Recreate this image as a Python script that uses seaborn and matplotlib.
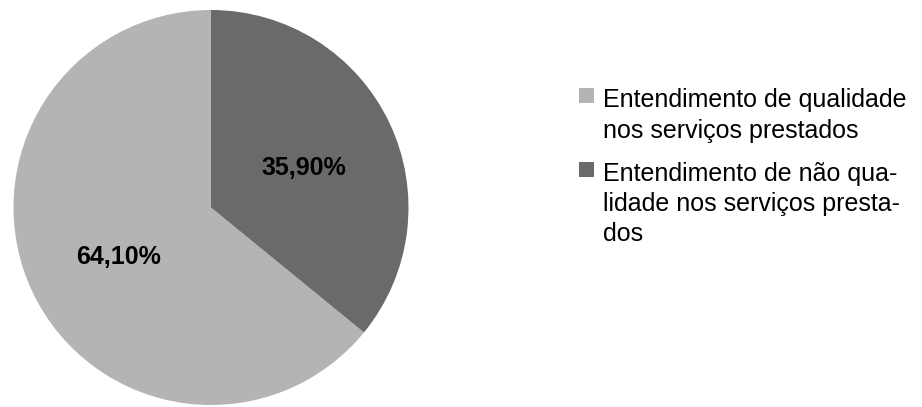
import matplotlib
matplotlib.use("Agg")
import matplotlib.pyplot as plt
from matplotlib.patches import Rectangle
from matplotlib.transforms import offset_copy
import seaborn as sns

# Survey result: perception of service quality
categories = [
    "Entendimento de qualidade nos serviços prestados",
    "Entendimento de não qualidade nos serviços prestados",
]
shares = [64.10, 35.90]
legend_lines = [
    ["Entendimento de qualidade", "nos serviços prestados"],
    ["Entendimento de não qua-", "lidade nos serviços presta-", "dos"],
]
colors = ["#b4b4b4", "#6a6a6a"]

sns.set_style("white")
plt.rcParams["font.family"] = ["Liberation Sans", "DejaVu Sans"]

W, H = 922, 407
fig = plt.figure(figsize=(W / 100, H / 100), dpi=100)

cx, cy, r = 211, 207.5, 197.5
ax = fig.add_axes([(cx - r) / W, (H - cy - r) / H, 2 * r / W, 2 * r / H])

wedges, texts, autotexts = ax.pie(
    shares,
    colors=colors,
    startangle=90,
    counterclock=True,
    radius=1.0,
    pctdistance=0.52,
    autopct=lambda p: f"{p:.2f}%".replace(".", ","),
    wedgeprops=dict(linewidth=0),
    textprops=dict(fontsize=18, fontweight="bold", color="black"),
)
# nudge the percentage labels slightly downward
for t in autotexts:
    t.set_transform(offset_copy(ax.transData, fig=fig, x=0, y=-5, units="dots"))
ax.set_xlim(-1, 1)
ax.set_ylim(-1, 1)
ax.set_aspect("equal")
ax.axis("off")

# Legend drawn as square swatches with wrapped labels
marker_x, marker_size = 579, 15
text_x = 603
item_baselines = [[107, 138], [181, 211, 241]]
for color, lines, baselines in zip(colors, legend_lines, item_baselines):
    top = baselines[0] - 19
    fig.patches.append(
        Rectangle(
            (marker_x / W, 1 - (top + marker_size) / H),
            marker_size / W,
            marker_size / H,
            transform=fig.transFigure,
            facecolor=color,
            edgecolor="none",
        )
    )
    for line, yb in zip(lines, baselines):
        fig.text(text_x / W, 1 - yb / H, line, fontsize=18,
                 va="baseline", ha="left", color="black")

fig.savefig("out.png", dpi=100, facecolor="white")
